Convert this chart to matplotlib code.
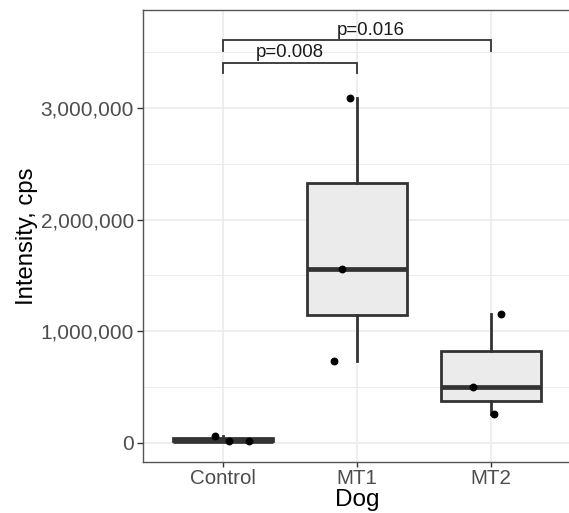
import matplotlib
matplotlib.use("Agg")
import matplotlib.pyplot as plt
from matplotlib.ticker import FuncFormatter, MultipleLocator, FixedLocator
import numpy as np

plt.rcParams['font.family'] = ['Liberation Sans', 'DejaVu Sans']

# ---- data ----
groups = ["Control", "MT1", "MT2"]
control_vals = [63000, 20000, 12000]
mt1_vals = [730000, 1560000, 3090000]
mt2_vals = [257000, 496000, 1150000]
control_jitter = [-0.06, 0.04, 0.19]
mt1_jitter = [-0.17, -0.11, -0.05]
mt2_jitter = [0.025, -0.13, 0.08]
y_ticks = [0, 1000000, 2000000, 3000000]
comparisons = [(1, 2, 3405000, 3316000, "p=0.008", 1.5),
               (1, 3, 3605000, 3510000, "p=0.016", 2.1)]

values = [control_vals, mt1_vals, mt2_vals]
jitters = [control_jitter, mt1_jitter, mt2_jitter]

fig = plt.figure(figsize=(5.69, 5.13), dpi=100)
ax = fig.add_axes([143/569, 1-462/513, 428/569, 452/513])

edge = '#333333'
grid_c = '#EBEBEB'

bp = ax.boxplot(values, positions=[1, 2, 3], widths=0.75, patch_artist=True,
                showcaps=False, showfliers=False, whis=1.5,
                boxprops=dict(facecolor='#EBEBEB', edgecolor=edge, linewidth=2.0),
                whiskerprops=dict(color=edge, linewidth=2.0),
                medianprops=dict(color=edge, linewidth=3.4, solid_capstyle='butt'),
                zorder=2)

for i, (vals, jit) in enumerate(zip(values, jitters)):
    xs = [i + 1 + j for j in jit]
    ax.scatter(xs, vals, s=32, color='black', zorder=4, linewidths=0)

# significance brackets
for x1, x2, yline, ytick, label, xt in comparisons:
    ax.plot([x1, x1, x2, x2], [ytick, yline, yline, ytick], color=edge,
            linewidth=1.3, solid_joinstyle='miter', clip_on=False, zorder=3)
    ax.text(xt, yline + 50000, label, ha='center', va='baseline',
            fontsize=13.4, color='#1a1a1a')

ax.set_xlim(0.4, 3.6)
ax.set_ylim(-172000, 3878000)

# ticks & grid
ax.xaxis.set_major_locator(FixedLocator([1, 2, 3]))
ax.xaxis.set_major_formatter(FuncFormatter(lambda v, p: groups[int(round(v)) - 1]))
ax.yaxis.set_major_locator(FixedLocator(y_ticks))
ax.yaxis.set_minor_locator(MultipleLocator(500000))
ax.yaxis.set_major_formatter(FuncFormatter(lambda v, p: f"{int(v):,}"))
ax.grid(which='major', color=grid_c, linewidth=1.2, zorder=0)
ax.grid(which='minor', axis='y', color=grid_c, linewidth=0.7, zorder=0)
ax.set_axisbelow(True)

ax.tick_params(axis='y', which='major', length=4, width=1, color=edge, labelsize=15.0,
               labelcolor='#4D4D4D', pad=2.5)
ax.tick_params(axis='x', which='major', length=3.5, width=1, color=edge, labelsize=14.8,
               labelcolor='#4D4D4D', pad=1.2)
ax.tick_params(which='minor', length=0)

for s in ax.spines.values():
    s.set_color('#555555')
    s.set_linewidth(1.0)

ax.set_xlabel("Dog", fontsize=17.5)
ax.xaxis.label.set_va('baseline')
ax.xaxis.set_label_coords(0.5, (462 - 506) / 452)
ax.set_ylabel("Intensity, cps", fontsize=17.2)
ax.yaxis.label.set_va('center')
ax.yaxis.set_label_coords((27 - 143) / 428, 0.5)

fig.savefig("out.png", dpi=100)
